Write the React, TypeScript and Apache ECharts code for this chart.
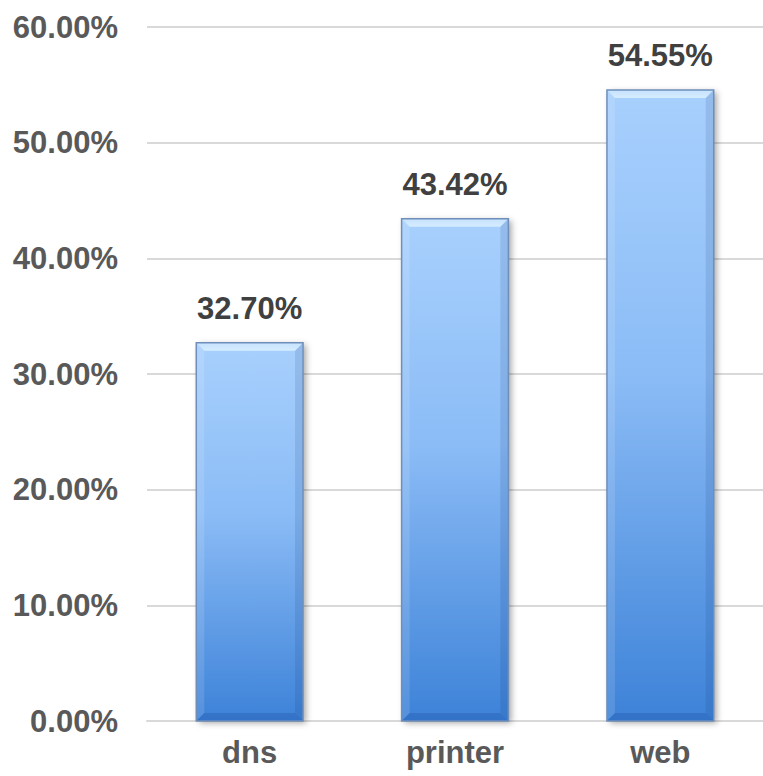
import React, { useEffect, useRef } from "react";
import * as echarts from "echarts";

const categories = ["dns", "printer", "web"];
const values = [32.7, 43.42, 54.55];
const yTicks = [0, 10, 20, 30, 40, 50, 60];

const FONT = "Liberation Sans, Arial, sans-serif";
const BAR_RATIO = 0.52;
const BEVEL = 8;

export default function App() {
  const ref = useRef<HTMLDivElement>(null);
  useEffect(() => {
    if (!ref.current) return;
    const chart = echarts.init(ref.current, undefined, { renderer: "svg" });

    const renderBar = (params: any, api: any) => {
      const idx = api.value(0);
      const v = api.value(1);
      const top = api.coord([idx, v]);
      const base = api.coord([idx, 0]);
      const bw = api.size([1, 0])[0] * BAR_RATIO;
      const x0 = top[0] - bw / 2;
      const x1 = top[0] + bw / 2;
      const y0 = top[1];
      const y1 = base[1];
      const b = BEVEL;
      return {
        type: "group",
        children: [
          {
            type: "rect",
            shape: { x: x0, y: y0, width: bw, height: y1 - y0 },
            style: {
              fill: new echarts.graphic.LinearGradient(0, 0, 0, 1, [
                { offset: 0, color: "#a8d0fd" },
                { offset: 0.45, color: "#8bbcf6" },
                { offset: 1, color: "#3d82d8" },
              ]),
              shadowColor: "rgba(0,0,0,0.35)",
              shadowBlur: 6,
              shadowOffsetX: 3,
              shadowOffsetY: 2,
            },
          },
          {
            type: "polygon",
            shape: { points: [[x0, y0], [x1, y0], [x1 - b, y0 + b], [x0 + b, y0 + b]] },
            style: {
              fill: new echarts.graphic.LinearGradient(0, 0, 0, 1, [
                { offset: 0, color: "#c6e2ff" },
                { offset: 1, color: "#d6ecff" },
              ]),
            },
          },
          {
            type: "polygon",
            shape: { points: [[x0, y0], [x0 + b, y0 + b], [x0 + b, y1 - b], [x0, y1]] },
            style: { fill: "rgba(255,255,255,0.12)" },
          },
          {
            type: "polygon",
            shape: { points: [[x1, y0], [x1, y1], [x1 - b, y1 - b], [x1 - b, y0 + b]] },
            style: { fill: "rgba(20,50,110,0.12)" },
          },
          {
            type: "polygon",
            shape: { points: [[x0, y1], [x1, y1], [x1 - b, y1 - b], [x0 + b, y1 - b]] },
            style: { fill: "rgba(20,60,140,0.22)" },
          },
          {
            type: "rect",
            shape: { x: x0, y: y0, width: bw, height: y1 - y0 },
            style: { fill: "none", stroke: "#6f8fba", lineWidth: 1.5 },
          },
          {
            type: "text",
            style: {
              text: v.toFixed(2) + "%",
              x: top[0],
              y: y0 - 19,
              align: "center",
              verticalAlign: "bottom",
              fill: "#404040",
              font: `bold 31px ${FONT}`,
            },
          },
        ],
      };
    };

    chart.setOption({
      animation: false,
      grid: { left: 147, right: -1, top: 27, bottom: 55, containLabel: false },
      xAxis: {
        type: "category",
        data: categories,
        axisLine: { show: true, lineStyle: { color: "#d9d9d9", width: 2 } },
        axisTick: { show: false },
        axisLabel: {
          color: "#595959",
          fontSize: 31,
          fontWeight: "bold",
          fontFamily: FONT,
          margin: 16,
        },
      },
      yAxis: {
        type: "value",
        min: yTicks[0],
        max: yTicks[yTicks.length - 1],
        interval: yTicks[1] - yTicks[0],
        axisLine: { show: false },
        axisTick: { show: false },
        splitLine: { lineStyle: { color: "#d9d9d9", width: 2 } },
        axisLabel: {
          color: "#595959",
          fontSize: 31,
          fontWeight: "bold",
          fontFamily: FONT,
          margin: 29,
          formatter: (v: number) => v.toFixed(2) + "%",
        },
      },
      series: [
        {
          type: "custom",
          renderItem: renderBar,
          encode: { x: 0, y: 1 },
          data: values.map((v, i) => [i, v]),
        },
      ],
    });
    return () => chart.dispose();
  }, []);
  return (
    <div
      ref={ref}
      style={{ position: "fixed", left: 0, top: 0, width: 763, height: 776, background: "#fff" }}
    />
  );
}
